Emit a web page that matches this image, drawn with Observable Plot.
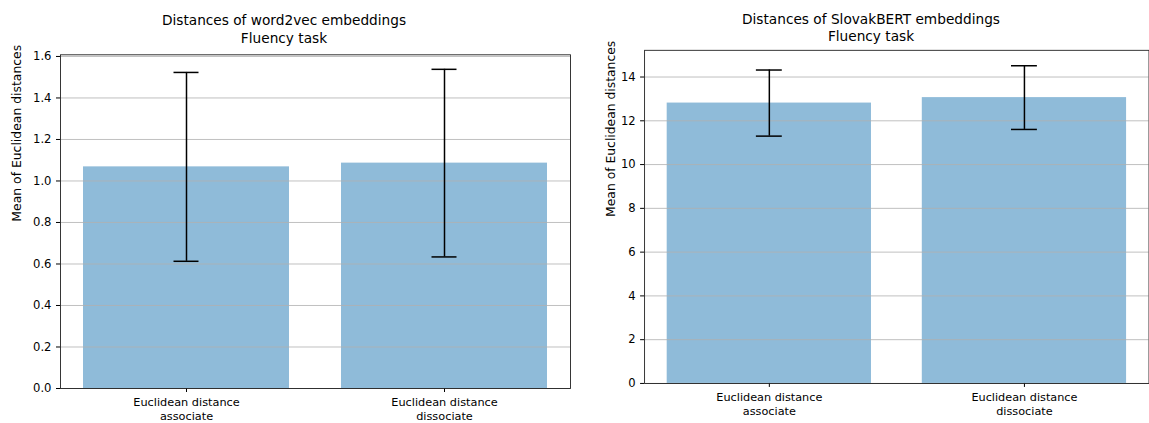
<!DOCTYPE html>
<html>
<head>
<meta charset="utf-8">
<script src="https://cdn.jsdelivr.net/npm/d3@7"></script>
<script src="https://cdn.jsdelivr.net/npm/@observablehq/plot@0.6"></script>
<style>
  html, body { margin: 0; padding: 0; background: white; overflow: hidden; }
  #wrap { position: relative; width: 1149px; height: 423px; overflow: hidden; font-family: "DejaVu Sans", sans-serif; }
  .panel { position: absolute; top: 0; }
  .title { position: absolute; text-align: center; font-size: 13.7px; color: black; white-space: nowrap; transform: translateX(-50%); }
</style>
</head>
<body>
<div id="wrap">
  <div class="title" id="t1" style="left:284px; top:11px; line-height:18px;">Distances of word2vec embeddings<br>Fluency task</div>
  <div class="title" id="t2" style="left:871px; top:11px; line-height:16.8px;">Distances of SlovakBERT embeddings<br>Fluency task</div>
  <div class="panel" id="p1" style="left:0px;"></div>
  <div class="panel" id="p2" style="left:580px;"></div>
</div>
<script>
const categories = ["Euclidean distance\nassociate", "Euclidean distance\ndissociate"];
const w2vMean = [1.068, 1.086];
const w2vSd = [0.455, 0.452];
const bertMean = [12.81, 13.06];
const bertSd = [1.51, 1.455];
const w2vTicks = [0.0, 0.2, 0.4, 0.6, 0.8, 1.0, 1.2, 1.4, 1.6];
const bertTicks = [0, 2, 4, 6, 8, 10, 12, 14];
const yLabel = "Mean of Euclidean distances";

function chart(o) {
  const data = categories.map((c, i) => ({cat: c, mean: o.mean[i], lo: o.mean[i] - o.sd[i], hi: o.mean[i] + o.sd[i]}));
  return Plot.plot({
    width: o.width,
    height: 423,
    marginLeft: o.marginLeft,
    marginRight: o.marginRight,
    marginTop: o.marginTop,
    marginBottom: o.marginBottom,
    style: {fontFamily: "DejaVu Sans", fontSize: "11.4px", color: "black", background: "transparent", overflow: "visible"},
    x: {domain: categories, paddingInner: 0.2, paddingOuter: 0.088, align: 0.5, label: null},
    y: {domain: o.domain, label: null},
    marks: [
      Plot.barY(data, {x: "cat", y: "mean", fill: "#1f77b4", fillOpacity: 0.5}),
      Plot.gridY(o.ticks, {stroke: "#b0b0b0", strokeOpacity: 1, strokeWidth: 0.8}),
      Plot.ruleX(data, {x: "cat", y1: "lo", y2: "hi", stroke: "black", strokeWidth: 1.5}),
      Plot.tickY(data, {x: "cat", y: "lo", stroke: "black", strokeWidth: 1.5, insetLeft: o.capInset, insetRight: o.capInset}),
      Plot.tickY(data, {x: "cat", y: "hi", stroke: "black", strokeWidth: 1.5, insetLeft: o.capInset, insetRight: o.capInset}),
      Plot.axisY(o.ticks, {tickSize: 4, tickPadding: 5, tickFormat: o.fmt, label: null, fontSize: 11.6}),
      Plot.axisX({tickSize: 4, tickPadding: 4, label: null, lineHeight: 1.2, fontSize: 11.3}),
      Plot.frame({stroke: "#222", strokeWidth: 0.9}),
      Plot.text([yLabel], {frameAnchor: "left", dx: -o.labelDx, rotate: -90, text: d => d, fontSize: 12.4})
    ]
  });
}

document.getElementById("p1").appendChild(chart({
  mean: w2vMean, sd: w2vSd, ticks: w2vTicks, domain: [0, 1.608], fmt: d3.format(".1f"),
  width: 580, marginLeft: 60, marginRight: 10, marginTop: 54.3, marginBottom: 35,
  capInset: 90.5, labelDx: 43
}));
document.getElementById("p2").appendChild(chart({
  mean: bertMean, sd: bertSd, ticks: bertTicks, domain: [0, 15.22], fmt: d3.format("d"),
  width: 571, marginLeft: 64.3, marginRight: 0.5, marginTop: 50, marginBottom: 38.7,
  capInset: 89.5, labelDx: 34
}));
</script>
</body>
</html>
